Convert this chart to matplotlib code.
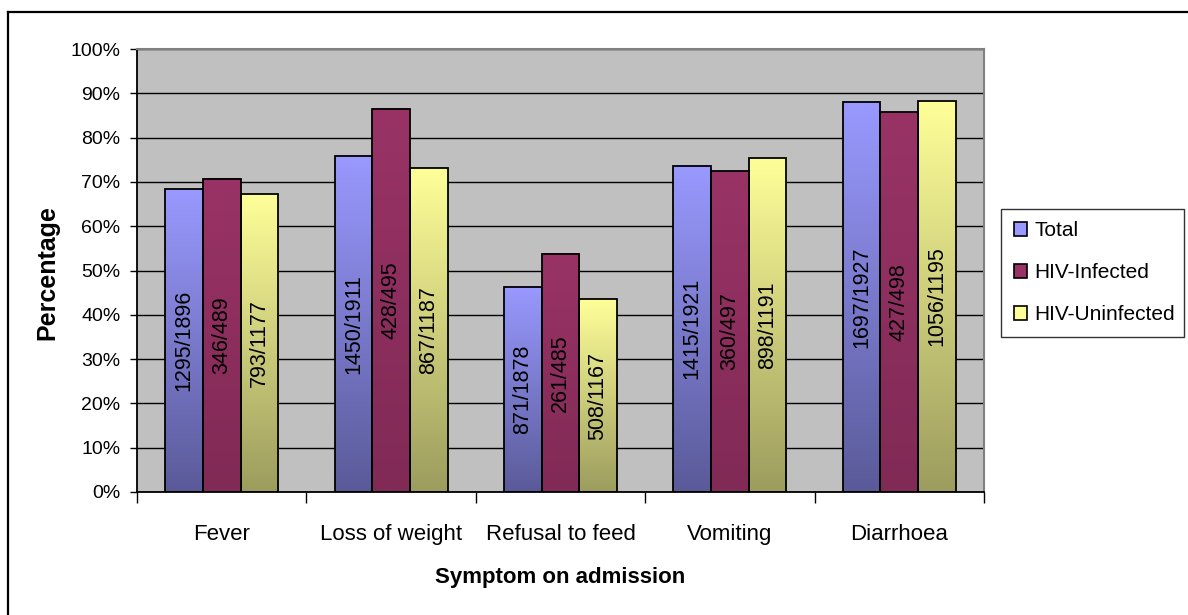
import numpy as np
import matplotlib
matplotlib.use('Agg')
import matplotlib.pyplot as plt
from matplotlib.colors import LinearSegmentedColormap
from matplotlib.patches import Patch
from matplotlib.lines import Line2D

plt.rcParams['font.family'] = ['Liberation Sans', 'DejaVu Sans']

# ========== data ==========
symptoms = ["Fever", "Loss of weight", "Refusal to feed", "Vomiting", "Diarrhoea"]
groups = ["Total", "HIV-Infected", "HIV-Uninfected"]

# cases / patients per group
total_n = [1295, 1450, 871, 1415, 1697]
total_d = [1896, 1911, 1878, 1921, 1927]
infected_n = [346, 428, 261, 360, 427]
infected_d = [489, 495, 485, 497, 498]
uninfected_n = [793, 867, 508, 898, 1056]
uninfected_d = [1177, 1187, 1167, 1191, 1195]

counts = [(total_n, total_d), (infected_n, infected_d), (uninfected_n, uninfected_d)]

# gradient (bottom colour, top colour) for each group
shades = [("#5a5a99", "#9999ff"), ("#812a56", "#993366"), ("#9c9c5e", "#ffff99")]

# ========== figure ==========
fig = plt.figure(figsize=(11.88, 6.15), dpi=100)
ax = fig.add_axes([137 / 1188, 1 - 492 / 615, 847 / 1188, 443 / 615])
ax.set_facecolor("#c0c0c0")

x = np.arange(len(symptoms))
bar_w = 1 / 4.5  # gap width 150%

for g, (num, den) in enumerate(counts):
    pct = np.array(num) / np.array(den) * 100
    cmap = LinearSegmentedColormap.from_list(f"g{g}", shades[g])
    offs = (g - 1) * bar_w
    for i, h in enumerate(pct):
        x0 = x[i] + offs - bar_w / 2
        grad = np.linspace(0, 1, 256).reshape(-1, 1)
        ax.imshow(grad, extent=[x0, x0 + bar_w, 0, h], origin="lower",
                  aspect="auto", cmap=cmap, interpolation="bilinear", zorder=2)
        ax.text(x[i] + offs, h / 2, f"{num[i]}/{den[i]}", rotation=90,
                ha="center", va="center", fontsize=15.5, zorder=4)
    ax.bar(x + offs, pct, width=bar_w, fill=False, edgecolor="black",
           linewidth=1.3, zorder=3)

ax.set_xlim(-0.5, len(symptoms) - 0.5)
ax.set_ylim(0, 100)

# y axis
ax.set_yticks(np.arange(0, 101, 10))
ax.set_yticklabels([f"{v}%" for v in range(0, 101, 10)], fontsize=14)
ax.yaxis.grid(True, color="black", linewidth=1.0, zorder=1)
ax.set_axisbelow(True)
ax.tick_params(axis="y", direction="out", length=5, width=1, pad=7)

# x axis: ticks between categories, labels at centres
ax.set_xticks(np.arange(-0.5, len(symptoms), 1))
ax.set_xticklabels([])
ax.set_xticks(x, minor=True)
ax.set_xticklabels(symptoms, minor=True, fontsize=16)
ax.tick_params(axis="x", which="major", direction="out", length=8, width=1)
ax.tick_params(axis="x", which="minor", length=0, pad=23)

for side in ["left", "bottom"]:
    ax.spines[side].set_color("black")
    ax.spines[side].set_linewidth(1.3)
for side in ["top", "right"]:
    ax.spines[side].set_color("#808080")
    ax.spines[side].set_linewidth(1.5)

fig.text(47 / 1188, 1 - 273 / 615, "Percentage", rotation=90, ha="center",
         va="center", fontsize=18, fontweight="bold")
fig.text(560.5 / 1188, 1 - 577 / 615, "Symptom on admission", ha="center",
         va="center", fontsize=16, fontweight="bold")

# legend
handles = [Patch(facecolor=shades[g][1], edgecolor="black", linewidth=1.2)
           for g in range(3)]
leg = fig.legend(handles, groups, loc="upper left", mode="expand",
                 bbox_to_anchor=(1001 / 1188, 1 - 330 / 615, 183 / 1188, 121 / 615),
                 bbox_transform=fig.transFigure, borderaxespad=0,
                 fontsize=15, frameon=True, fancybox=False, handlelength=0.65,
                 handleheight=0.65, handletextpad=0.35, labelspacing=1.1,
                 borderpad=0.6)
leg.get_frame().set_edgecolor("black")
leg.get_frame().set_linewidth(1.0)

# outer chart frame
fig.add_artist(Line2D([8 / 1188, 1.01], [1 - 12 / 615] * 2, color="black",
                      linewidth=1.6, transform=fig.transFigure))
fig.add_artist(Line2D([8 / 1188] * 2, [1 - 12 / 615, -0.01], color="black",
                      linewidth=1.6, transform=fig.transFigure))

fig.savefig("out.png", dpi=100)
